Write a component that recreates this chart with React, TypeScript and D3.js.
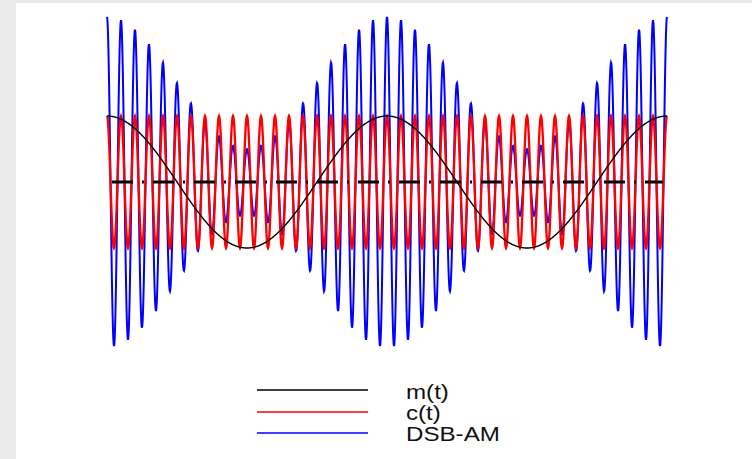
import * as d3 from "d3";
import { useMemo } from "react";

// legend entries, in the order they are drawn in the key
const seriesNames = ["m(t)", "c(t)", "DSB-AM"];
const seriesColors = ["#000000", "#ff0000", "#0000ff"];

// signal parameters
const messagePeriods = 2; // m(t) runs two full cycles across the plot
const carrierCycles = 40; // c(t) packs 40 cycles into the same span
const messageAmp = 1;
const carrierAmp = 1;
const dsbOffset = 1.5; // envelope 1.5 + m(t): peaks at 2.5, dips to 0.5
const sampleCount = 1600;

const yExtent = [-2.5, 2.5];

export default function App() {
  const width = 752;
  const height = 459;

  const plot = { left: 107, right: 667, top: 17, bottom: 347 };

  const xScale = useMemo(
    () => d3.scaleLinear().domain([0, messagePeriods]).range([plot.left, plot.right]),
    []
  );
  const yScale = useMemo(
    () => d3.scaleLinear().domain(yExtent).range([plot.bottom, plot.top]),
    []
  );

  const samples = useMemo(() => {
    const t = d3.range(sampleCount + 1).map((i) => (i / sampleCount) * messagePeriods);
    return t.map((tt) => {
      const m = messageAmp * Math.cos(2 * Math.PI * tt);
      const c = carrierAmp * Math.cos((2 * Math.PI * carrierCycles * tt) / messagePeriods);
      return { t: tt, m, c, s: (dsbOffset + m) * c };
    });
  }, []);

  const lineOf = (key: "m" | "c" | "s") =>
    d3
      .line<{ t: number; m: number; c: number; s: number }>()
      .x((d) => xScale(d.t))
      .y((d) => yScale(d[key]))(samples) || "";

  const legendX = 257;
  const legendLineLen = 111;
  const legendRows = [390, 412, 433];
  const textBaselines = [399, 420, 441];

  return (
    <svg
      width={width}
      height={height}
      style={{ position: "absolute", left: 0, top: 0 }}
      fontFamily="'Liberation Sans', Arial, sans-serif"
    >
      <rect x={0} y={0} width={width} height={height} fill="#e9e9e9" />
      <rect x={16} y={3} width={width - 16} height={height - 3} fill="#ffffff" />

      <path d={lineOf("s")} fill="none" stroke={seriesColors[2]} strokeWidth={2} />
      <path d={lineOf("c")} fill="none" stroke={seriesColors[1]} strokeWidth={2.3} />
      <path d={lineOf("m")} fill="none" stroke={seriesColors[0]} strokeWidth={1.4} />

      <line
        x1={xScale(0) + 5}
        x2={xScale(messagePeriods) - 4}
        y1={yScale(0)}
        y2={yScale(0)}
        stroke="#000"
        strokeWidth={2.8}
        strokeDasharray="21 9 2 9"
      />

      {seriesNames.map((name, i) => (
        <g key={name}>
          <line
            x1={legendX}
            x2={legendX + legendLineLen}
            y1={legendRows[i]}
            y2={legendRows[i]}
            stroke={seriesColors[i]}
            strokeWidth={1.6}
          />
          <text
            transform={`translate(406, ${textBaselines[i]}) scale(1.15, 1)`}
            fontSize={21}
            fill="#111"
          >
            {name}
          </text>
        </g>
      ))}
    </svg>
  );
}
